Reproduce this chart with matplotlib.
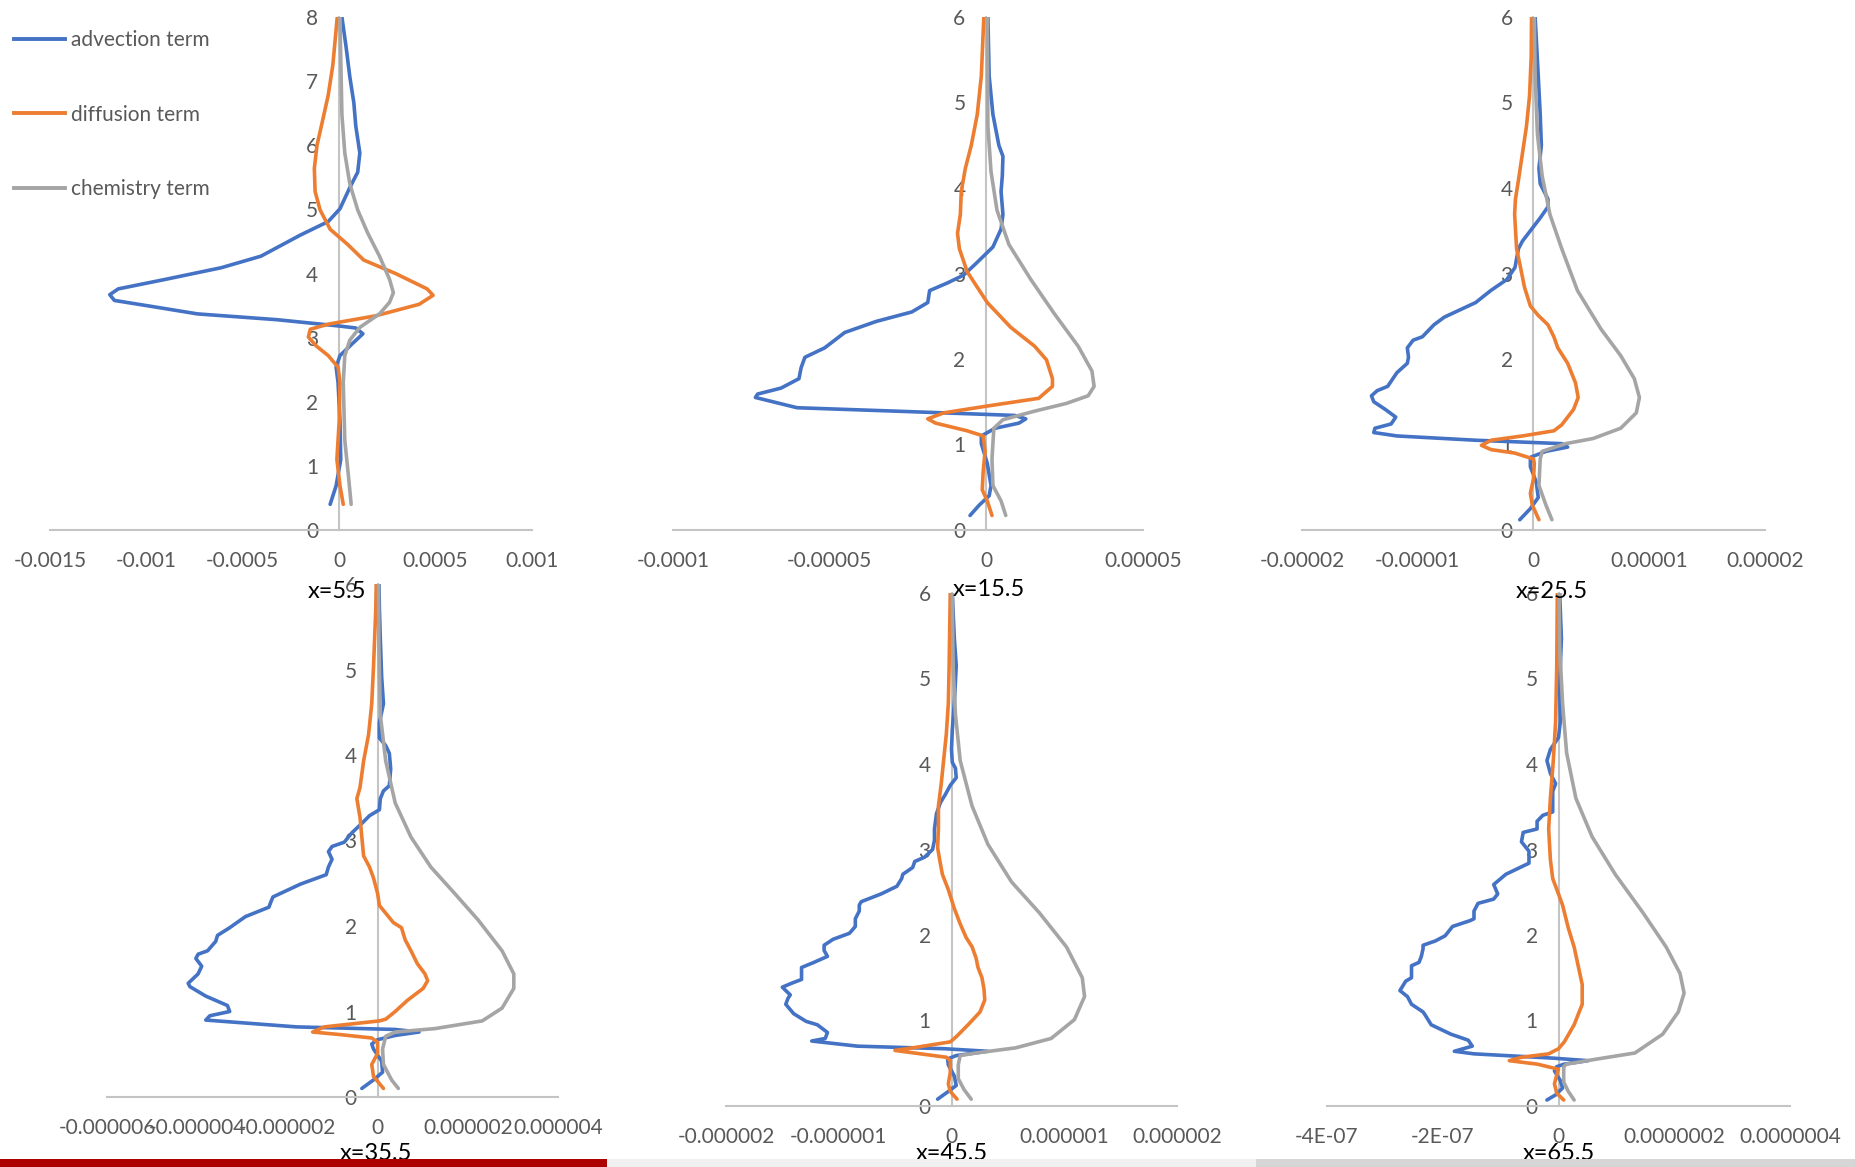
import matplotlib
matplotlib.use('Agg')
import matplotlib.pyplot as plt
from matplotlib.lines import Line2D
from matplotlib.patches import Rectangle

plt.rcParams['font.family'] = ['Lato', 'DejaVu Sans']

W, H = 1855, 1167

SERIES = ['advection term', 'diffusion term', 'chemistry term']
COLORS = ['#4472C4', '#ED7D31', '#A5A5A5']
TITLES = ['x=5.5', 'x=15.5', 'x=25.5', 'x=35.5', 'x=45.5', 'x=65.5']

# ---- x=5.5 ----
z1_adv = [0.40, 0.69, 1.10, 1.70, 2.30, 2.54, 2.72, 2.90, 3.06, 3.15, 3.18, 3.28, 3.37, 3.49, 3.58, 3.67,
          3.76, 3.91, 4.09, 4.27, 4.60, 4.81, 5.01, 5.34, 5.58, 5.88, 6.30, 6.66, 7.07, 7.55, 8.0]
adv1 = [-4.7e-5, -1.6e-5, 0.8e-5, 0.4e-5, -0.6e-5, -1.6e-5, 0.4e-5, 6.6e-5, 1.23e-4, 8.6e-5, 0.4e-5,
        -3.24e-4, -7.35e-4, -9.8e-4, -1.166e-3, -1.19e-3, -1.146e-3, -8.99e-4, -6.12e-4, -4.06e-4,
        -2.01e-4, -5.7e-5, 0.4e-5, 5.5e-5, 9.6e-5, 1.07e-4, 8.6e-5, 7.6e-5, 5.5e-5, 3.5e-5, 1.4e-5]
z1_dif = [0.40, 0.69, 1.10, 1.70, 2.30, 2.54, 2.72, 2.87, 3.01, 3.13, 3.21, 3.34, 3.52, 3.66, 3.76, 4.00,
          4.21, 4.45, 4.69, 4.99, 5.28, 5.64, 6.00, 6.36, 6.78, 7.25, 8.0]
dif1 = [2.1e-5, 0.4e-5, -1.2e-5, 0.0, 0.4e-5, -0.6e-5, -5.7e-5, -1.19e-4, -1.6e-4, -1.5e-4, -5.7e-5,
        1.89e-4, 4.15e-4, 4.87e-4, 4.56e-4, 2.92e-4, 1.27e-4, 4.5e-5, -4.7e-5, -9.9e-5, -1.25e-4,
        -1.29e-4, -1.15e-4, -8.8e-5, -5.7e-5, -3.3e-5, -1.0e-5]
z1_chem = [0.40, 0.81, 1.40, 2.30, 2.72, 2.96, 3.16, 3.37, 3.55, 3.70, 3.91, 4.27, 4.63, 4.99, 5.40,
           5.88, 6.48, 7.37, 8.0]
chem1 = [6.2e-5, 4.9e-5, 2.9e-5, 2.1e-5, 2.9e-5, 5.5e-5, 1.07e-4, 2.09e-4, 2.61e-4, 2.81e-4, 2.61e-4,
         2.09e-4, 1.48e-4, 9.6e-5, 5.5e-5, 2.9e-5, 1.4e-5, 0.8e-5, 0.4e-5]

# ---- x=15.5 ----
z2_adv = [0.17, 0.29, 0.40, 0.52, 0.78, 1.01, 1.10, 1.19, 1.25, 1.30, 1.34, 1.39, 1.43, 1.55, 1.59, 1.66,
          1.77, 1.90, 2.02, 2.13, 2.31, 2.44, 2.55, 2.66, 2.80, 2.89, 2.98, 3.11, 3.31, 3.52, 3.69, 3.96,
          4.14, 4.37, 4.50, 4.86, 5.31, 6.0]
adv2 = [-5.2e-6, -2.3e-6, 0.9e-6, 1.5e-6, 0.3e-6, -1.6e-6, -1.6e-6, 2.8e-6, 1.04e-5, 1.26e-5, 9.1e-6,
        -2.88e-5, -6.04e-5, -7.37e-5, -7.30e-5, -6.55e-5, -5.98e-5, -5.91e-5, -5.79e-5, -5.16e-5,
        -4.52e-5, -3.51e-5, -2.38e-5, -1.87e-5, -1.81e-5, -1.24e-5, -7.3e-6, -3.5e-6, 2.1e-6, 4.7e-6,
        5.3e-6, 4.7e-6, 5.1e-6, 5.3e-6, 4.0e-6, 2.1e-6, 0.9e-6, 0.5e-6]
z2_dif = [0.17, 0.34, 0.47, 0.69, 0.92, 1.10, 1.16, 1.25, 1.30, 1.37, 1.45, 1.54, 1.68, 1.77, 1.99, 2.15,
          2.37, 2.66, 3.02, 3.29, 3.47, 3.69, 3.96, 4.23, 4.50, 4.86, 5.31, 6.0]
dif2 = [1.8e-6, 0.3e-6, -1.3e-6, -1.0e-6, -0.4e-6, -1.0e-6, -6.1e-6, -1.62e-5, -1.87e-5, -1.36e-5,
        0.3e-6, 1.67e-5, 2.11e-5, 2.11e-5, 1.92e-5, 1.54e-5, 7.8e-6, 0.3e-6, -6.1e-6, -8.6e-6, -9.2e-6,
        -8.3e-6, -8.0e-6, -6.7e-6, -4.8e-6, -2.9e-6, -1.6e-6, -0.8e-6]
z2_chem = [0.17, 0.34, 0.52, 0.83, 1.19, 1.29, 1.39, 1.48, 1.57, 1.68, 1.86, 2.15, 2.53, 2.93, 3.34, 3.74,
           4.19, 4.72, 6.0]
chem2 = [6.2e-6, 4.7e-6, 2.1e-6, 1.8e-6, 2.4e-6, 5.3e-6, 1.54e-5, 2.55e-5, 3.25e-5, 3.44e-5, 3.37e-5,
         2.93e-5, 2.17e-5, 1.42e-5, 7.2e-6, 3.4e-6, 1.5e-6, 0.5e-6, 0.3e-6]

# ---- x=25.5 ----
z3_adv = [0.12, 0.25, 0.38, 0.56, 0.74, 0.85, 0.92, 0.97, 1.01, 1.05, 1.10, 1.14, 1.19, 1.24, 1.32, 1.41,
          1.50, 1.57, 1.63, 1.68, 1.84, 1.95, 2.02, 2.13, 2.22, 2.26, 2.40, 2.49, 2.66, 2.80, 2.93, 3.07,
          3.29, 3.38, 3.65, 3.78, 3.87, 4.05, 4.23, 4.50, 4.86, 5.31, 5.75, 6.0]
adv3 = [-1.19e-6, -0.27e-6, 0.41e-6, 0.24e-6, -0.27e-6, -0.27e-6, 1.08e-6, 2.95e-6, 2.44e-6, -5.02e-6,
        -1.18e-5, -1.38e-5, -1.37e-5, -1.23e-5, -1.19e-5, -1.28e-5, -1.38e-5, -1.40e-5, -1.35e-5,
        -1.26e-5, -1.18e-5, -1.09e-5, -1.08e-5, -1.09e-5, -1.04e-5, -9.6e-6, -8.6e-6, -7.7e-6, -5.0e-6,
        -3.7e-6, -2.3e-6, -1.6e-6, -1.3e-6, -0.95e-6, 0.58e-6, 1.25e-6, 1.25e-6, 0.58e-6, 0.47e-6,
        0.68e-6, 0.58e-6, 0.41e-6, 0.24e-6, 0.14e-6]
z3_dif = [0.12, 0.29, 0.43, 0.60, 0.78, 0.83, 0.90, 0.94, 0.99, 1.05, 1.10, 1.16, 1.23, 1.41, 1.55, 1.72,
          1.95, 2.13, 2.26, 2.40, 2.51, 2.62, 2.84, 3.07, 3.29, 3.69, 3.87, 4.10, 4.41, 4.72, 5.08, 5.53, 6.0]
dif3 = [0.47e-6, -0.1e-6, -0.27e-6, 0.0, 0.07e-6, 0.0, -1.63e-6, -3.66e-6, -4.5e-6, -3.66e-6, -0.95e-6,
        1.76e-6, 2.44e-6, 3.46e-6, 3.86e-6, 3.63e-6, 2.95e-6, 2.10e-6, 1.76e-6, 1.25e-6, 0.41e-6,
        -0.27e-6, -0.78e-6, -1.12e-6, -1.46e-6, -1.63e-6, -1.56e-6, -1.29e-6, -0.95e-6, -0.61e-6,
        -0.34e-6, -0.2e-6, -0.17e-6]
z3_chem = [0.12, 0.29, 0.52, 0.83, 0.92, 1.01, 1.07, 1.19, 1.37, 1.55, 1.77, 2.04, 2.35, 2.80, 3.29, 3.69,
           4.14, 4.63, 5.31, 6.0]
chem3 = [1.59e-6, 1.08e-6, 0.47e-6, 0.58e-6, 0.75e-6, 2.78e-6, 5.15e-6, 7.53e-6, 8.88e-6, 9.15e-6,
         8.71e-6, 7.53e-6, 5.83e-6, 3.80e-6, 2.44e-6, 1.42e-6, 0.75e-6, 0.34e-6, 0.14e-6, 0.07e-6]

# ---- x=35.5 ----
z4_adv = [0.10, 0.20, 0.29, 0.42, 0.56, 0.62, 0.67, 0.72, 0.76, 0.79, 0.82, 0.90, 0.95, 1.00, 1.07, 1.18,
          1.29, 1.33, 1.44, 1.53, 1.62, 1.67, 1.71, 1.82, 1.89, 1.98, 2.11, 2.22, 2.29, 2.34, 2.49, 2.60,
          2.69, 2.78, 2.87, 2.93, 2.98, 3.09, 3.20, 3.29, 3.36, 3.49, 3.58, 3.64, 3.84, 4.02, 4.11, 4.20,
          4.38, 4.60, 4.91, 5.36, 5.71, 6.0]
adv4 = [-0.35e-6, -0.09e-6, 0.11e-6, 0.09e-6, -0.09e-6, -0.13e-6, 0.0, 0.39e-6, 0.92e-6, 0.39e-6,
        -1.80e-6, -3.81e-6, -3.72e-6, -3.28e-6, -3.33e-6, -3.81e-6, -4.16e-6, -4.20e-6, -3.98e-6,
        -3.90e-6, -4.03e-6, -3.98e-6, -3.77e-6, -3.59e-6, -3.55e-6, -3.28e-6, -2.93e-6, -2.41e-6,
        -2.36e-6, -2.32e-6, -1.71e-6, -1.14e-6, -1.09e-6, -1.01e-6, -1.09e-6, -1.01e-6, -0.74e-6,
        -0.57e-6, -0.35e-6, -0.18e-6, 0.04e-6, 0.06e-6, 0.13e-6, 0.26e-6, 0.29e-6, 0.26e-6, 0.18e-6,
        0.04e-6, 0.04e-6, 0.13e-6, 0.09e-6, 0.06e-6, 0.04e-6, 0.03e-6]
z4_dif = [0.10, 0.24, 0.38, 0.51, 0.64, 0.69, 0.73, 0.76, 0.82, 0.89, 0.91, 1.00, 1.13, 1.27, 1.36, 1.44,
          1.56, 1.71, 1.84, 1.98, 2.04, 2.24, 2.38, 2.56, 2.69, 2.82, 3.04, 3.27, 3.49, 3.62, 3.93, 4.24,
          4.60, 5.04, 5.71, 6.0]
dif4 = [0.13e-6, -0.09e-6, -0.13e-6, 0.0, 0.0, -0.13e-6, -0.83e-6, -1.44e-6, -1.18e-6, 0.04e-6, 0.18e-6,
        0.39e-6, 0.66e-6, 1.01e-6, 1.11e-6, 1.05e-6, 0.88e-6, 0.74e-6, 0.61e-6, 0.53e-6, 0.35e-6,
        0.04e-6, 0.0, -0.09e-6, -0.18e-6, -0.31e-6, -0.35e-6, -0.39e-6, -0.46e-6, -0.39e-6, -0.31e-6,
        -0.20e-6, -0.13e-6, -0.09e-6, -0.04e-6, -0.03e-6]
z4_chem = [0.10, 0.20, 0.38, 0.56, 0.71, 0.76, 0.80, 0.89, 1.04, 1.27, 1.44, 1.71, 2.07, 2.38, 2.69, 3.04,
           3.44, 3.93, 4.47, 5.27, 6.0]
chem4 = [0.46e-6, 0.31e-6, 0.13e-6, 0.11e-6, 0.18e-6, 0.39e-6, 1.27e-6, 2.32e-6, 2.76e-6, 3.02e-6,
         3.02e-6, 2.76e-6, 2.23e-6, 1.71e-6, 1.18e-6, 0.74e-6, 0.39e-6, 0.18e-6, 0.06e-6, 0.03e-6, 0.02e-6]

# ---- x=45.5 ----
z5_adv = [0.08, 0.17, 0.24, 0.35, 0.48, 0.55, 0.59, 0.64, 0.67, 0.70, 0.76, 0.79, 0.86, 0.95, 0.99, 1.08,
          1.19, 1.26, 1.30, 1.35, 1.39, 1.44, 1.48, 1.55, 1.62, 1.68, 1.75, 1.82, 1.88, 1.95, 2.02, 2.10,
          2.19, 2.28, 2.35, 2.39, 2.48, 2.57, 2.66, 2.71, 2.79, 2.86, 2.91, 3.00, 3.11, 3.24, 3.42, 3.55,
          3.64, 3.75, 3.84, 3.95, 4.02, 4.17, 4.40, 4.71, 5.15, 5.47, 6.0]
adv5 = [-0.123e-6, -0.028e-6, 0.042e-6, 0.025e-6, -0.028e-6, -0.035e-6, 0.042e-6, 0.32e-6, -0.063e-6,
        -0.835e-6, -1.24e-6, -1.12e-6, -1.10e-6, -1.19e-6, -1.29e-6, -1.40e-6, -1.47e-6, -1.45e-6,
        -1.43e-6, -1.47e-6, -1.50e-6, -1.41e-6, -1.33e-6, -1.33e-6, -1.33e-6, -1.22e-6, -1.10e-6,
        -1.13e-6, -1.13e-6, -1.05e-6, -0.905e-6, -0.853e-6, -0.853e-6, -0.818e-6, -0.818e-6, -0.80e-6,
        -0.625e-6, -0.484e-6, -0.442e-6, -0.432e-6, -0.344e-6, -0.326e-6, -0.239e-6, -0.168e-6,
        -0.151e-6, -0.151e-6, -0.133e-6, -0.098e-6, -0.056e-6, -0.011e-6, 0.042e-6, 0.035e-6,
        0.007e-6, 0.0, 0.007e-6, 0.025e-6, 0.042e-6, 0.025e-6, 0.007e-6]
z5_dif = [0.08, 0.17, 0.26, 0.39, 0.53, 0.57, 0.61, 0.65, 0.68, 0.75, 0.81, 0.95, 1.10, 1.24, 1.37, 1.50,
          1.62, 1.73, 1.86, 1.97, 2.13, 2.31, 2.53, 2.71, 2.88, 3.02, 3.24, 3.51, 3.77, 4.04, 4.35, 4.71,
          5.15, 6.0]
dif5 = [0.049e-6, -0.011e-6, -0.028e-6, -0.011e-6, -0.011e-6, -0.046e-6, -0.274e-6, -0.502e-6,
        -0.344e-6, -0.011e-6, 0.042e-6, 0.147e-6, 0.253e-6, 0.295e-6, 0.288e-6, 0.270e-6, 0.235e-6,
        0.218e-6, 0.183e-6, 0.130e-6, 0.077e-6, 0.025e-6, -0.028e-6, -0.081e-6, -0.105e-6, -0.123e-6,
        -0.116e-6, -0.116e-6, -0.091e-6, -0.070e-6, -0.046e-6, -0.028e-6, -0.021e-6, -0.011e-6]
z5_chem = [0.08, 0.19, 0.32, 0.48, 0.59, 0.62, 0.68, 0.79, 1.01, 1.28, 1.50, 1.86, 2.26, 2.62, 3.06, 3.51,
           4.04, 4.58, 5.15, 6.0]
chem5 = [0.175e-6, 0.112e-6, 0.060e-6, 0.060e-6, 0.077e-6, 0.218e-6, 0.568e-6, 0.884e-6, 1.09e-6,
         1.18e-6, 1.16e-6, 1.02e-6, 0.779e-6, 0.533e-6, 0.323e-6, 0.182e-6, 0.077e-6, 0.035e-6,
         0.014e-6, 0.007e-6]

# ---- x=65.5 ----
z6_adv = [0.07, 0.13, 0.21, 0.30, 0.41, 0.46, 0.49, 0.53, 0.56, 0.61, 0.64, 0.70, 0.77, 0.84, 0.95, 1.06,
          1.10, 1.19, 1.28, 1.35, 1.46, 1.50, 1.64, 1.68, 1.75, 1.84, 1.88, 1.93, 1.99, 2.10, 2.17, 2.19,
          2.28, 2.37, 2.42, 2.48, 2.59, 2.71, 2.84, 2.98, 3.09, 3.20, 3.24, 3.33, 3.40, 3.44, 3.55, 3.68,
          3.77, 3.89, 4.04, 4.17, 4.31, 4.49, 4.93, 5.47, 6.0]
adv6 = [-0.20e-7, -0.05e-7, 0.07e-7, 0.03e-7, -0.07e-7, -0.03e-7, 0.10e-7, 0.51e-7, -0.10e-7, -1.46e-7,
        -1.80e-7, -1.49e-7, -1.56e-7, -1.86e-7, -2.20e-7, -2.30e-7, -2.34e-7, -2.54e-7, -2.61e-7,
        -2.74e-7, -2.64e-7, -2.54e-7, -2.54e-7, -2.41e-7, -2.37e-7, -2.34e-7, -2.34e-7, -2.13e-7,
        -1.96e-7, -1.83e-7, -1.52e-7, -1.46e-7, -1.46e-7, -1.39e-7, -1.12e-7, -1.05e-7, -1.12e-7,
        -0.91e-7, -0.51e-7, -0.51e-7, -0.64e-7, -0.61e-7, -0.37e-7, -0.37e-7, -0.27e-7, -0.10e-7,
        -0.10e-7, -0.10e-7, -0.05e-7, -0.14e-7, -0.20e-7, -0.14e-7, 0.0, 0.03e-7, 0.02e-7, 0.05e-7,
        0.02e-7]
z6_dif = [0.07, 0.15, 0.26, 0.39, 0.43, 0.49, 0.53, 0.57, 0.61, 0.67, 0.75, 0.95, 1.19, 1.42, 1.64, 1.86,
          2.08, 2.35, 2.48, 2.66, 2.88, 3.24, 3.60, 4.04, 4.49, 5.15, 6.0]
dif6 = [0.09e-7, -0.03e-7, -0.07e-7, -0.02e-7, 0.0, -0.37e-7, -0.85e-7, -0.64e-7, -0.17e-7, 0.0, 0.10e-7,
        0.27e-7, 0.41e-7, 0.41e-7, 0.34e-7, 0.27e-7, 0.17e-7, 0.07e-7, 0.0, -0.10e-7, -0.14e-7, -0.17e-7,
        -0.14e-7, -0.09e-7, -0.05e-7, -0.03e-7, -0.02e-7]
z6_chem = [0.07, 0.17, 0.28, 0.46, 0.49, 0.54, 0.62, 0.84, 1.10, 1.32, 1.55, 1.86, 2.26, 2.71, 3.15, 3.60,
           4.13, 4.71, 5.38, 6.0]
chem6 = [0.27e-7, 0.17e-7, 0.09e-7, 0.09e-7, 0.14e-7, 0.58e-7, 1.32e-7, 1.80e-7, 2.07e-7, 2.17e-7,
         2.10e-7, 1.86e-7, 1.46e-7, 0.98e-7, 0.58e-7, 0.30e-7, 0.14e-7, 0.07e-7, 0.02e-7, 0.01e-7]

# x axis ticks and their labels as shown in each chart
xticks1 = [-0.0015, -0.001, -0.0005, 0, 0.0005, 0.001]
xlabels1 = ['-0.0015', '-0.001', '-0.0005', '0', '0.0005', '0.001']
xticks2 = [-0.0001, -0.00005, 0, 0.00005]
xlabels2 = ['-0.0001', '-0.00005', '0', '0.00005']
xticks3 = [-0.00002, -0.00001, 0, 0.00001, 0.00002]
xlabels3 = ['-0.00002', '-0.00001', '0', '0.00001', '0.00002']
xticks4 = [-0.000006, -0.000004, -0.000002, 0, 0.000002, 0.000004]
xlabels4 = ['-0.000006', '-0.000004', '-0.000002', '0', '0.000002', '0.000004']
xticks5 = [-0.000002, -0.000001, 0, 0.000001, 0.000002]
xlabels5 = ['-0.000002', '-0.000001', '0', '0.000001', '0.000002']
xticks6 = [-4e-7, -2e-7, 0, 2e-7, 4e-7]
xlabels6 = ['-4E-07', '-2E-07', '0', '0.0000002', '0.0000004']
ymax = [8, 6, 6, 6, 6, 6]

fig = plt.figure(figsize=(W / 100, H / 100), dpi=100)
fig.patch.set_facecolor('white')


def panel(box, xticks, xlabels, top, curves, title, title_pos):
    # box in pixels: left, right, top, bottom of the plot area
    x0, x1, y0, y1 = box
    ax = fig.add_axes([x0 / W, 1 - y1 / H, (x1 - x0) / W, (y1 - y0) / H])
    ax.patch.set_alpha(0)
    for (z, v), c in zip(curves, COLORS):
        ax.plot(v, z, color=c, lw=2.6, zorder=3, solid_joinstyle='round', solid_capstyle='round')
    ax.set_xlim(xticks[0], xticks[-1])
    ax.set_ylim(0, top)
    ax.spines['left'].set_position(('data', 0))
    ax.spines['top'].set_visible(False)
    ax.spines['right'].set_visible(False)
    for s in ['left', 'bottom']:
        ax.spines[s].set_color('#C4C4C4')
        ax.spines[s].set_linewidth(1.5)
    ax.set_xticks(xticks, xlabels)
    ax.set_yticks(range(top + 1))
    ax.tick_params(length=0, labelsize=15, labelcolor='#595959')
    ax.tick_params(axis='x', pad=15)
    ax.tick_params(axis='y', pad=15)
    fig.text(title_pos[0] / W, 1 - title_pos[1] / H, title, ha='center', va='baseline',
             fontsize=17, color='black', zorder=5)
    return ax


panel((50, 532, 17, 530), xticks1, xlabels1, ymax[0],
      [(z1_adv, adv1), (z1_dif, dif1), (z1_chem, chem1)], TITLES[0], (337, 598))
panel((673, 1143, 17, 530), xticks2, xlabels2, ymax[1],
      [(z2_adv, adv2), (z2_dif, dif2), (z2_chem, chem2)], TITLES[1], (989, 596))
panel((1302, 1765, 17, 530), xticks3, xlabels3, ymax[2],
      [(z3_adv, adv3), (z3_dif, dif3), (z3_chem, chem3)], TITLES[2], (1552, 598))
panel((107, 558, 584, 1097), xticks4, xlabels4, ymax[3],
      [(z4_adv, adv4), (z4_dif, dif4), (z4_chem, chem4)], TITLES[3], (376, 1160))
panel((726, 1177, 593, 1106), xticks5, xlabels5, ymax[4],
      [(z5_adv, adv5), (z5_dif, dif5), (z5_chem, chem5)], TITLES[4], (952, 1160))
panel((1327, 1790, 593, 1106), xticks6, xlabels6, ymax[5],
      [(z6_adv, adv6), (z6_dif, dif6), (z6_chem, chem6)], TITLES[5], (1559, 1160))

handles = [Line2D([], [], color=c, lw=2.8) for c in COLORS]
fig.legend(handles, SERIES, loc='upper left', bbox_to_anchor=(14 / W, 1 - 30 / H),
           frameon=False, fontsize=15, labelcolor='#595959', handlelength=2.45,
           handletextpad=0.3, labelspacing=2.62, borderpad=0, borderaxespad=0)

# strips along the bottom edge of the screenshot
fig.add_artist(Rectangle((0, 0), 607 / W, 8 / H, transform=fig.transFigure,
                         color='#AD0000', zorder=10, lw=0))
fig.add_artist(Rectangle((607 / W, 0), 649 / W, 8 / H, transform=fig.transFigure,
                         color='#F0F0F0', zorder=10, lw=0))
fig.add_artist(Rectangle((1256 / W, 0), 599 / W, 8 / H, transform=fig.transFigure,
                         color='#D6D6D6', zorder=10, lw=0))

fig.savefig('out.png', dpi=100)
